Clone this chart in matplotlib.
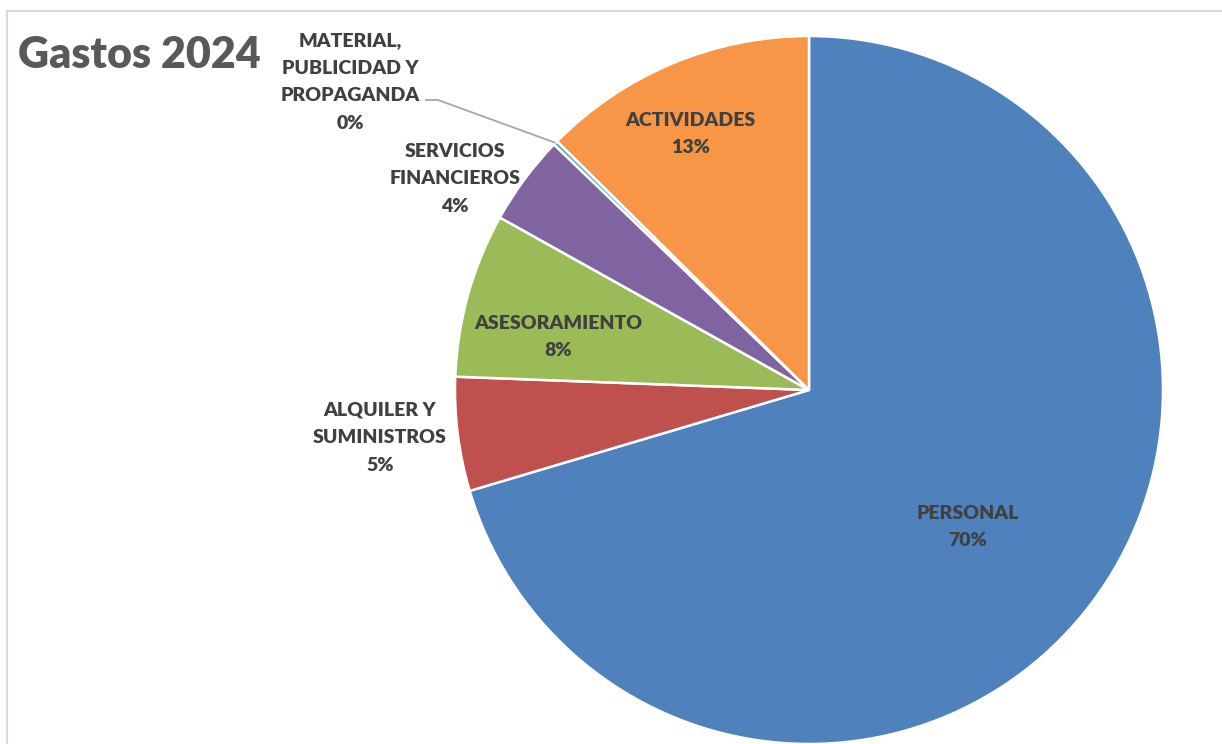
import matplotlib
matplotlib.use("Agg")
import matplotlib.pyplot as plt
import numpy as np

categories = ["PERSONAL", "ALQUILER Y\nSUMINISTROS", "ASESORAMIENTO",
              "SERVICIOS\nFINANCIEROS", "MATERIAL,\nPUBLICIDAD Y\nPROPAGANDA",
              "ACTIVIDADES"]
values = [70.4, 5.2, 7.5, 4.1, 0.2, 12.6]
pct_labels = ["70%", "5%", "8%", "4%", "0%", "13%"]
colors = ["#4F81BD", "#C0504D", "#9BBB59", "#8064A2", "#4BACC6", "#F79646"]
title = "Gastos 2024"

# label block centres in pixels (layout)
label_pos = [(968, 527), (380, 438), (558, 337), (455, 179), (350, 82), (690, 134)]

W, H = 1222, 744
fig = plt.figure(figsize=(W / 100, H / 100), dpi=100)
ax = fig.add_axes([0, 0, 1, 1])
cx, cy, R = 809, 390, 354

wedges, _ = ax.pie(values, colors=colors, startangle=90, counterclock=False,
                   radius=1, wedgeprops=dict(edgecolor="white", linewidth=1.8))
ax.set_xlim(-cx / R, (W - cx) / R)
ax.set_ylim(-(H - cy) / R, cy / R)
ax.set_aspect("equal", adjustable="box")
ax.axis("off")


def px(x, y):
    return ((x - cx) / R, (cy - y) / R)


FONT = "Lato"
for cat, pct, (x, y) in zip(categories, pct_labels, label_pos):
    tx, ty = px(x, y)
    ax.text(tx, ty, cat + "\n" + pct, ha="center", va="center", fontsize=14,
            fontweight="heavy", color="#404040", family=FONT, linespacing=1.78)

# leader line for the tiny slice
w = wedges[4]
th = np.deg2rad((w.theta1 + w.theta2) / 2)
ex, ey = np.cos(th), np.sin(th)
p1 = px(425, 100)
p2 = px(438, 100)
ax.plot([p1[0], p2[0], ex], [p1[1], p2[1], ey], color="#A6A6A6", lw=1.3,
        solid_capstyle="butt")

# title
fig.text(18 / W, 1 - 68 / H, title, ha="left", va="baseline", fontsize=31,
         fontweight="heavy", color="#595959", family=FONT)

# chart frame
fig.add_artist(plt.Line2D([7 / W, 7 / W], [0, 1 - 11 / H], color="#D9D9D9", lw=1.5,
                          transform=fig.transFigure))
fig.add_artist(plt.Line2D([7 / W, 1], [1 - 11 / H, 1 - 11 / H], color="#D9D9D9", lw=1.5,
                          transform=fig.transFigure))

fig.savefig("out.png", dpi=100, facecolor="white")
